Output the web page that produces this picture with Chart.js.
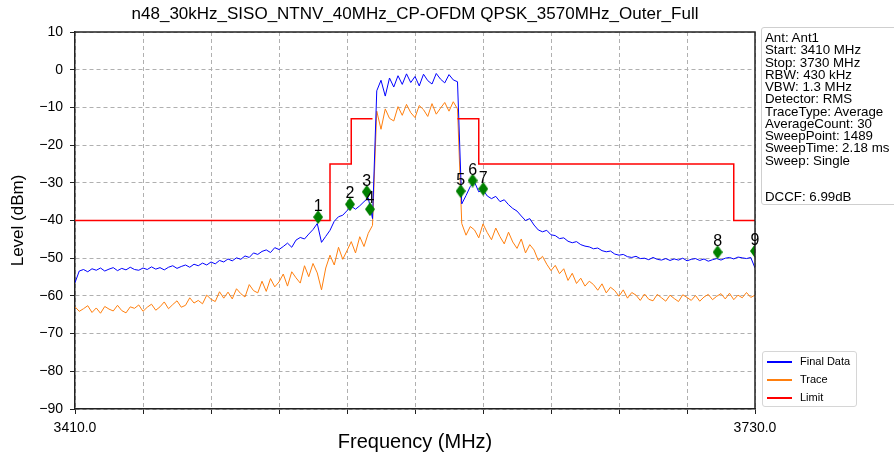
<!DOCTYPE html>
<html>
<head>
<meta charset="utf-8">
<script src="https://cdn.jsdelivr.net/npm/chart.js@4"></script>
<style>
    html, body { margin: 0; padding: 0; background: #fff; overflow: hidden; }
    #wrap { position: relative; width: 894px; height: 457px; font-family: 'Liberation Sans', Arial, sans-serif; }
    #infoBox {
        position: absolute; left: 761px; top: 27px; width: 150px; height: 178px;
        border: 1px solid #cfcfcf; border-radius: 3px; box-sizing: border-box;
        padding: 4px 0 0 3px; font-size: 13.3px; line-height: 12.27px; color: #000; white-space: pre;
    }
    #legendBox {
        position: absolute; left: 762px; top: 351px; width: 95px; height: 56px;
        border: 1px solid #d6d6d6; border-radius: 3px; box-sizing: border-box; font-size: 11px; color: #000;
    }
    .lg-item { position: absolute; left: 0; height: 14px; }
    .lg-line { position: absolute; left: 4px; width: 25px; height: 1.5px; top: 7px; }
    .lg-text { position: absolute; left: 37px; top: 0; line-height: 14px; white-space: nowrap; }
</style>
</head>
<body>
<div id="wrap">
    <canvas id="specChart" width="894" height="457"></canvas>
    <div id="infoBox"></div>
    <div id="legendBox"></div>
</div>
<script>
const chartTitle = 'n48_30kHz_SISO_NTNV_40MHz_CP-OFDM QPSK_3570MHz_Outer_Full';

// sweep frequencies (MHz)
const freqMHz = [
    3410, 3412, 3414, 3416, 3418, 3420, 3422, 3424, 3426, 3428,
    3430, 3432, 3434, 3436, 3438, 3440, 3442, 3444, 3446, 3448,
    3450, 3452, 3454, 3456, 3458, 3460, 3462, 3464, 3466, 3468,
    3470, 3472, 3474, 3476, 3478, 3480, 3482, 3484, 3486, 3488,
    3490, 3492, 3494, 3496, 3498, 3500, 3502, 3504, 3506, 3508,
    3510, 3512, 3514, 3516, 3518, 3520, 3522, 3524, 3526, 3528,
    3530, 3532, 3534, 3536, 3538, 3540, 3542, 3544, 3546, 3548,
    3550, 3552, 3554, 3556, 3558, 3560, 3562, 3564, 3566, 3568,
    3570, 3572, 3574, 3576, 3578, 3580, 3582, 3584, 3586, 3588,
    3590, 3592, 3594, 3596, 3598, 3600, 3602, 3604, 3606, 3608,
    3610, 3612, 3614, 3616, 3618, 3620, 3622, 3624, 3626, 3628,
    3630, 3632, 3634, 3636, 3638, 3640, 3642, 3644, 3646, 3648,
    3650, 3652, 3654, 3656, 3658, 3660, 3662, 3664, 3666, 3668,
    3670, 3672, 3674, 3676, 3678, 3680, 3682, 3684, 3686, 3688,
    3690, 3692, 3694, 3696, 3698, 3700, 3702, 3704, 3706, 3708,
    3710, 3712, 3714, 3716, 3718, 3720, 3722, 3724, 3726, 3728,
    3730
];

// Final Data (dBm)
const finalData = [
    -56.5, -53.4, -53.0, -53.6, -52.8, -53.2, -52.6, -53.4, -52.9, -52.5,
    -53.3, -52.7, -53.1, -52.4, -53.0, -53.2, -52.6, -53.0, -52.3, -52.9,
    -52.5, -53.1, -52.4, -52.0, -52.7, -52.2, -51.8, -52.4, -51.6, -52.0,
    -51.3, -51.8, -51.0, -51.5, -50.6, -51.0, -50.2, -50.7, -49.9, -50.3,
    -49.4, -49.8, -48.6, -49.0, -48.2, -47.8, -48.5, -47.2, -47.7, -46.9,
    -46.0, -47.1, -45.2, -44.5, -44.9, -43.6, -42.4, -40.8, -45.8, -44.2,
    -42.6, -40.2, -39.0, -38.6, -37.4, -36.2, -37.0, -36.1, -35.0, -34.0,
    -39.5, -5.6, -2.8, -7.0, -2.2, -4.6, -1.6, -3.9, -1.1, -3.4,
    -1.8, -4.3, -1.2, -2.9, -3.8, -1.0, -2.5, -3.5, -1.3, -2.7,
    -3.2, -35.6, -33.4, -31.0, -29.8, -32.4, -31.8, -33.5, -34.2, -33.6,
    -35.0, -34.5, -35.8, -36.8, -37.5, -38.8, -40.0, -39.5, -41.2, -42.5,
    -43.0, -42.6, -43.8, -44.0, -44.8, -44.6, -45.5, -45.9, -45.6, -46.4,
    -46.8, -47.0, -47.5, -47.3, -48.0, -48.3, -48.1, -48.9, -49.2, -49.0,
    -49.6, -49.8, -49.5, -50.1, -50.0, -50.4, -49.8, -50.3, -50.5, -50.1,
    -50.6, -50.2, -50.5, -50.0, -50.7, -50.3, -50.1, -50.6, -50.2, -50.8,
    -50.4, -50.1, -50.5, -50.0, -49.8, -50.2, -49.7, -49.9, -50.1, -49.8,
    -52.6
];

// Trace (dBm)
const traceData = [
    -62.9, -64.1, -63.4, -62.6, -64.4, -63.2, -64.6, -62.8, -63.5, -64.0,
    -62.5, -63.9, -64.5, -62.9, -63.3, -62.4, -64.1, -63.0, -62.2, -63.8,
    -62.9, -61.6, -63.4, -62.3, -61.3, -63.0, -62.5, -60.5, -61.9, -61.2,
    -62.1, -59.8, -60.9, -61.5, -58.9, -60.6, -59.0, -60.8, -58.1, -59.4,
    -60.3, -57.0, -58.6, -59.2, -56.1, -58.8, -55.4, -57.6, -56.3, -54.2,
    -57.4, -53.6, -55.2, -56.6, -52.0, -54.9, -51.4, -53.9, -58.4, -52.6,
    -49.2, -51.8, -47.1, -50.3, -48.0, -45.6, -48.6, -44.3, -46.9, -43.4,
    -41.3, -11.0, -15.8, -10.4, -12.9, -13.6, -9.8, -12.1, -9.2, -11.4,
    -12.7, -9.5, -10.6, -12.4, -9.0, -11.8, -10.2, -8.7, -11.0, -8.5,
    -10.4, -40.8, -43.9, -41.6, -42.5, -44.6, -40.9, -43.2, -45.1, -42.0,
    -44.3, -46.2, -43.1, -45.7, -47.4, -44.9, -48.6, -46.4, -47.8, -50.6,
    -49.5, -51.6, -53.3, -51.9, -54.1, -52.8, -55.9, -54.0, -56.7, -55.3,
    -57.4, -56.1, -57.0, -58.5, -56.8, -59.2, -57.7, -58.6, -60.1, -58.4,
    -60.6, -59.1, -59.8, -61.2, -59.5, -60.9, -61.3, -59.6, -60.5, -61.4,
    -59.8, -60.7, -61.5, -59.7, -60.4, -61.2, -59.9, -61.4, -60.3, -59.6,
    -61.0, -60.1, -59.4, -60.8, -59.3, -61.0, -59.8, -60.5, -59.1, -60.4,
    -59.8
];

// spectrum emission limit mask
const limitFreq  = [3410, 3530, 3530, 3540, 3540, 3550, 3550, 3590, 3590, 3600, 3600, 3720, 3720, 3730];
const limitLevel = [-40, -40, -25, -25, -13, -13, null, null, -13, -13, -25, -25, -40, -40];

// markers
const markerLabels = ['1', '2', '3', '4', '5', '6', '7', '8', '9'];
const markerFreq   = [3524.4, 3539.4, 3547.3, 3548.8, 3591.5, 3597.1, 3602.1, 3712.4, 3730];
const markerLevel  = [-39.1, -35.7, -32.4, -37.0, -32.2, -29.4, -31.6, -48.4, -48.1];

const xTicks = [3410, 3442, 3474, 3506, 3538, 3570, 3602, 3634, 3666, 3698, 3730];
const xTickLabels = { 3410: '3410.0', 3730: '3730.0' };

const infoLines = [
    'Ant: Ant1', 'Start: 3410 MHz', 'Stop: 3730 MHz', 'RBW: 430 kHz', 'VBW: 1.3 MHz',
    'Detector: RMS', 'TraceType: Average', 'AverageCount: 30', 'SweepPoint: 1489',
    'SweepTime: 2.18 ms', 'Sweep: Single', '', '', 'DCCF: 6.99dB'
];

const legendItems = [
    { label: 'Final Data', color: '#0000ff' },
    { label: 'Trace', color: '#ff7f0e' },
    { label: 'Limit', color: '#ff0000' }
];

const FONT = "'Liberation Sans', Arial, sans-serif";
const toXY = (xs, ys) => xs.map((x, i) => ({ x: x, y: ys[i] }));

// green diamond marker
const diamond = document.createElement('canvas');
diamond.width = 10;
diamond.height = 14;
(() => {
    const c = diamond.getContext('2d');
    c.fillStyle = '#008000';
    c.beginPath();
    c.moveTo(5, 0);
    c.lineTo(10, 7);
    c.lineTo(5, 14);
    c.lineTo(0, 7);
    c.closePath();
    c.fill();
})();

const markerLabelPlugin = {
    id: 'markerLabels',
    afterDatasetsDraw(chart) {
        const { ctx, chartArea } = chart;
        // frame top/right
        ctx.save();
        ctx.strokeStyle = '#222';
        ctx.lineWidth = 1.5;
        ctx.beginPath();
        ctx.moveTo(chartArea.left, chartArea.top);
        ctx.lineTo(chartArea.right, chartArea.top);
        ctx.lineTo(chartArea.right, chartArea.bottom);
        ctx.stroke();
        // marker numbers
        const meta = chart.getDatasetMeta(3);
        ctx.fillStyle = '#000';
        ctx.font = '16px ' + FONT;
        ctx.textAlign = 'center';
        ctx.textBaseline = 'alphabetic';
        meta.data.forEach((pt, i) => {
            ctx.fillText(markerLabels[i], pt.x, pt.y - 6);
        });
        ctx.restore();
    }
};

new Chart(document.getElementById('specChart'), {
    type: 'line',
    data: {
        datasets: [
            {
                label: 'Trace',
                data: toXY(freqMHz, traceData),
                borderColor: '#ff7f0e',
                backgroundColor: '#ff7f0e',
                borderWidth: 1,
                pointRadius: 0,
                tension: 0,
                order: 3
            },
            {
                label: 'Final Data',
                data: toXY(freqMHz, finalData),
                borderColor: '#0000ff',
                backgroundColor: '#0000ff',
                borderWidth: 1,
                pointRadius: 0,
                tension: 0,
                order: 2
            },
            {
                label: 'Limit',
                data: toXY(limitFreq, limitLevel),
                borderColor: '#ff0000',
                backgroundColor: '#ff0000',
                borderWidth: 1.5,
                pointRadius: 0,
                spanGaps: false,
                tension: 0,
                order: 1
            },
            {
                label: 'Markers',
                data: toXY(markerFreq, markerLevel),
                showLine: false,
                pointStyle: diamond,
                pointRadius: 6,
                clip: { left: 8, top: 8, right: 0, bottom: 8 },
                order: 0
            }
        ]
    },
    options: {
        responsive: false,
        animation: false,
        events: [],
        layout: { padding: { left: 0, right: 139, top: 0, bottom: 0 } },
        plugins: {
            legend: { display: false },
            tooltip: { enabled: false },
            title: {
                display: true,
                fullSize: false,
                text: chartTitle,
                color: '#000',
                font: { family: FONT, size: 17, weight: 'normal', lineHeight: 1.2 },
                padding: { top: 4, bottom: 7.6 }
            }
        },
        scales: {
            x: {
                type: 'linear',
                min: 3410,
                max: 3730,
                afterBuildTicks: (scale) => { scale.ticks = xTicks.map(v => ({ value: v })); },
                afterFit: (scale) => { scale.height = 48; },
                ticks: {
                    autoSkip: false,
                    maxRotation: 0,
                    padding: 6,
                    color: '#000',
                    font: { family: FONT, size: 14 },
                    callback: (v) => xTickLabels[v] || ''
                },
                grid: { color: '#b0b0b0', lineWidth: 1, tickColor: '#222', tickLength: 5, tickWidth: 1 },
                border: { display: true, color: '#222', width: 1.5, dash: [4, 3] },
                title: {
                    display: true,
                    text: 'Frequency (MHz)',
                    color: '#000',
                    font: { family: FONT, size: 20, lineHeight: 1.2 },
                    padding: { top: 0, bottom: 3 }
                }
            },
            y: {
                min: -90,
                max: 10,
                afterFit: (scale) => { scale.width = 75; },
                ticks: {
                    stepSize: 10,
                    padding: 7,
                    color: '#000',
                    font: { family: FONT, size: 14 },
                    callback: (v) => String(v).replace('-', '\u2212')
                },
                grid: { color: '#b0b0b0', lineWidth: 1, tickColor: '#222', tickLength: 5, tickWidth: 1 },
                border: { display: true, color: '#222', width: 1.5, dash: [4, 3] },
                title: {
                    display: true,
                    text: 'Level (dBm)',
                    color: '#000',
                    font: { family: FONT, size: 17, lineHeight: 1.2 },
                    padding: { top: 8, bottom: 0 }
                }
            }
        }
    },
    plugins: [markerLabelPlugin]
});

// info panel
document.getElementById('infoBox').textContent = infoLines.join('\n');

// legend panel
const legendBox = document.getElementById('legendBox');
legendItems.forEach((item, i) => {
    const row = document.createElement('div');
    row.className = 'lg-item';
    row.style.top = (2 + i * 18) + 'px';
    row.innerHTML = `<div class="lg-line" style="background:${item.color}"></div><div class="lg-text">${item.label}</div>`;
    legendBox.appendChild(row);
});
</script>
</body>
</html>
